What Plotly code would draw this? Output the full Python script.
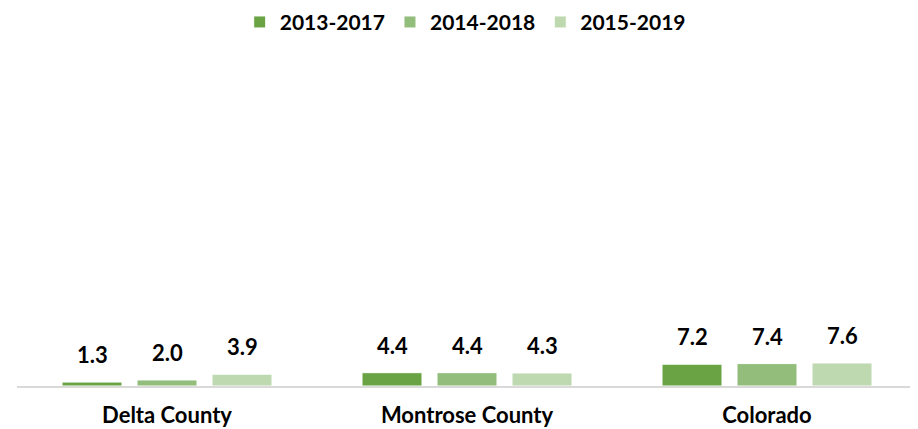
import plotly.graph_objects as go

categories = ["Delta County", "Montrose County", "Colorado"]
series_names = ["2013-2017", "2014-2018", "2015-2019"]
values_2013_2017 = [1.3, 4.4, 7.2]
values_2014_2018 = [2.0, 4.4, 7.4]
values_2015_2019 = [3.9, 4.3, 7.6]
colors = ["#6AA344", "#93BD7B", "#BED8B0"]

series_values = [values_2013_2017, values_2014_2018, values_2015_2019]

FONT = "Lato"
fig = go.Figure()
n = len(series_names)
slot_px = 75  # pixel offset between grouped bars
for i, (name, vals, col) in enumerate(zip(series_names, series_values, colors)):
    fig.add_trace(go.Bar(
        x=categories, y=vals, name=name,
        marker=dict(color=col, line=dict(color="white", width=1)),
        cliponaxis=False,
    ))
    for cat, v in zip(categories, vals):
        fig.add_annotation(
            x=cat, y=v, xref="x", yref="y",
            text=f"<b>{v:.1f}</b>", showarrow=False,
            xshift=(i - (n - 1) / 2) * slot_px, yshift=12, yanchor="bottom",
            font=dict(family=FONT, size=22, color="#000000"),
        )

fig.update_layout(
    width=910, height=421,
    margin=dict(l=9, r=1, t=75, b=41),
    paper_bgcolor="white", plot_bgcolor="white",
    barmode="group", bargap=0.25, bargroupgap=0.2,
    font=dict(family=FONT, size=20, color="#000000"),
    showlegend=True,
    legend=dict(orientation="h", x=0.498, xanchor="center", y=0.966, yref="container",
                yanchor="middle", font=dict(family=FONT, size=21, color="#000000", weight="bold"),
                itemwidth=30, traceorder="normal"),
    xaxis=dict(showline=True, linecolor="#D9D9D9", linewidth=2, ticks="",
               tickfont=dict(family=FONT, size=22, color="#000000", weight="bold"),
               ticklabelstandoff=9, showgrid=False),
    yaxis=dict(range=[0, 100], visible=False, showgrid=False, zeroline=False),
)

fig.write_html("out.html")
